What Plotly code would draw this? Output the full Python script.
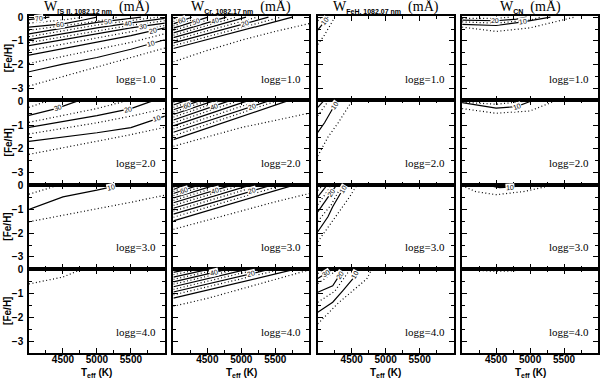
import numpy as np
import plotly.graph_objects as go
from plotly.subplots import make_subplots

T5 = [4000, 4500, 5000, 5500, 6000]

# contour lines: (level mA, Teff list, [Fe/H] list)
SI_G1 = [
    (5,  T5, [-2.9, -2.5, -2.1, -1.7, -1.3]),
    (10, T5, [-2.3, -1.98, -1.7, -1.35, -0.95]),
    (15, T5, [-1.95, -1.65, -1.37, -1.06, -0.7]),
    (20, T5, [-1.6, -1.32, -1.05, -0.78, -0.45]),
    (25, T5, [-1.4, -1.13, -0.87, -0.61, -0.35]),
    (30, T5, [-1.2, -0.95, -0.7, -0.45, -0.25]),
    (35, T5, [-1.07, -0.82, -0.57, -0.34, -0.15]),
    (40, T5, [-0.95, -0.7, -0.45, -0.24, -0.05]),
    (45, [4000, 4500, 5000, 5500, 5900], [-0.82, -0.57, -0.33, -0.14, 0]),
    (50, [4000, 4500, 5000, 5500, 5650], [-0.7, -0.45, -0.22, -0.05, 0]),
    (55, [4000, 4500, 5000, 5300], [-0.55, -0.36, -0.17, 0]),
    (60, [4000, 4500, 4800, 5000], [-0.42, -0.28, -0.12, 0]),
    (65, [4000, 4500, 4800], [-0.25, -0.12, 0]),
    (70, [4000, 4200, 4300], [-0.1, -0.03, 0]),
]
SI_G1_LAB = [(70, 4150), (60, 4450), (50, 5160), (40, 5460), (30, 5680), (20, 5830), (10, 5800)]

SI_G2 = [
    (5,  T5, [-2.23, -1.95, -1.7, -1.4, -1.09]),
    (10, T5, [-1.68, -1.5, -1.32, -1.1, -0.62]),
    (15, T5, [-1.37, -1.15, -0.9, -0.62, -0.3]),
    (20, [4000, 4500, 5000, 5500, 5800], [-1.09, -0.85, -0.6, -0.3, 0]),
    (25, [4000, 4500, 5000, 5400], [-0.88, -0.6, -0.3, 0]),
    (30, [4000, 4400, 4700], [-0.59, -0.3, 0]),
    (35, [4000, 4250], [-0.25, 0]),
]
SI_G2_LAB = [(30, 4430), (20, 5460), (10, 5880)]

SI_G3 = [
    (5,  T5, [-1.52, -1.25, -0.98, -0.7, -0.4]),
    (10, [4000, 4500, 5000, 5200, 5300], [-1.0, -0.47, -0.19, -0.06, 0]),
    (15, [4000, 4410], [-0.36, 0]),
]
SI_G3_LAB = [(10, 5200)]

SI_G4 = [
    (5, [4000, 4500, 4750], [-0.59, -0.3, 0]),
]
SI_G4_LAB = []

CR_LEV = [10, 15, 20, 25, 30, 35, 40, 45, 50, 55, 60, 65, 70, 75]

CR_G1_LEFT = [-1.32, -1.2, -1.08, -0.97, -0.86, -0.76, -0.66, -0.56, -0.46, -0.37, -0.28, -0.18, -0.08]
CR_G1_TOP = [5750, 5580, 5400, 5230, 5070, 4920, 4780, 4640, 4510, 4390, 4270, 4150, 4050]
CR_G1_LOW = [-1.88, -1.4, -0.97, -0.6, -0.27]
CR_G1_LAB = [(60, 4120), (50, 4330), (40, 4620), (20, 5050)]

CR_G2_LEFT = [-1.61, -1.45, -1.3, -1.16, -1.03, -0.9, -0.78, -0.66, -0.55, -0.45, -0.35, -0.25, -0.15, -0.06]
CR_G2_TOP = [5660, 5500, 5380, 5220, 5070, 4930, 4800, 4680, 4570, 4460, 4360, 4250, 4150, 4050]
CR_G2_LOW = [-1.89, -1.5, -1.1, -0.8, -0.49]
CR_G2_LAB = [(60, 4200), (40, 4600), (20, 5160)]

CR_G3_LEFT = [-1.48, -1.33, -1.2, -1.07, -0.95, -0.83, -0.72, -0.62, -0.52, -0.42, -0.33, -0.24, -0.16, -0.08]
CR_G3_TOP = [5750, 5580, 5420, 5260, 5110, 4970, 4840, 4710, 4590, 4470, 4350, 4240, 4140, 4050]
CR_G3_LOW = [-1.84, -1.45, -1.05, -0.68, -0.33]
CR_G3_LAB = [(60, 4150), (40, 4620), (20, 5160)]

CR_G4_LEFT = [-1.19, -1.05, -0.93, -0.82, -0.71, -0.6, -0.5, -0.4, -0.3, -0.2, -0.1]
CR_G4_TOP = [5750, 5550, 5380, 5200, 5050, 4900, 4760, 4620, 4480, 4340, 4180]
CR_G4_LOW = [-1.53, -1.2, -0.8, -0.4, 0.0]
CR_G4_LAB = [(40, 4600), (20, 5150)]

FEH_G1 = [
    (5,  [4000, 4100, 4250], [-1.15, -0.75, 0]),
    (10, [4000, 4150], [-0.55, 0]),
    (15, [4000, 4050], [-0.15, 0]),
]
FEH_G1_LAB = [(10, 4100)]

FEH_G2 = [
    (5,  [4000, 4150, 4300, 4450, 4500], [-2.3, -1.5, -0.9, -0.2, 0]),
    (10, [4000, 4100, 4220, 4300], [-1.3, -0.9, -0.3, 0]),
    (15, [4000, 4150], [-0.6, 0]),
    (20, [4000, 4080], [-0.25, 0]),
]
FEH_G2_LAB = [(10, 4250)]

FEH_G3 = [
    (5,  [4000, 4470, 4570], [-2.36, -0.47, 0]),
    (10, [4000, 4150, 4220, 4400], [-1.94, -1.31, -0.89, 0]),
    (15, [4000, 4200, 4350], [-1.5, -0.8, 0]),
    (20, [4000, 4120, 4270], [-1.1, -0.6, 0]),
    (25, [4000, 4200], [-0.8, 0]),
    (30, [4000, 4130], [-0.47, 0]),
    (35, [4000, 4070], [-0.2, 0]),
]
FEH_G3_LAB = [(20, 4200), (10, 4370)]

FEH_G4 = [
    (5,  [4000, 4300, 4720, 4790], [-2.27, -1.4, -0.38, 0]),
    (10, [4000, 4220, 4370, 4515, 4590], [-1.78, -1.36, -0.87, -0.38, 0]),
    (15, [4000, 4250, 4470], [-1.36, -0.9, 0]),
    (20, [4000, 4220, 4370], [-0.94, -0.67, 0]),
    (25, [4000, 4290], [-0.57, 0]),
    (30, [4000, 4200], [-0.36, 0]),
    (35, [4000, 4120], [-0.15, 0]),
]
FEH_G4_LAB = [(30, 4120), (20, 4320), (10, 4550)]

CN_G1 = [
    (5,  [4000, 4500, 5000, 5500, 5650], [-0.42, -0.6, -0.45, -0.1, 0]),
    (10, [4000, 4500, 4900, 5300], [-0.3, -0.35, -0.2, 0]),
    (15, [4000, 4500, 5000, 5150], [-0.2, -0.25, -0.12, 0]),
    (20, [4000, 4500, 4800, 4950], [-0.12, -0.15, -0.08, 0]),
    (25, [4000, 4500, 4700], [-0.05, -0.05, 0]),
]
CN_G1_LAB = [(20, 4480), (10, 4900)]

CN_G2 = [
    (5,  [4000, 4500, 5000, 5350], [-0.3, -0.5, -0.4, 0]),
    (10, [4000, 4500, 4800, 5000], [-0.05, -0.28, -0.22, 0]),
    (15, [4000, 4500, 4900], [-0.03, -0.12, 0]),
]
CN_G2_LAB = [(10, 4810)]

CN_G3 = [
    (5,  [4000, 4200, 4500, 4900, 5300], [0, -0.25, -0.38, -0.25, 0]),
    (10, [4400, 4550, 4750, 4850], [0, -0.08, -0.05, 0]),
]
CN_G3_LAB = [(10, 4700)]

CN_G4 = [
    (5, [4150, 4400, 4700, 4900], [0, -0.05, -0.05, 0]),
]
CN_G4_LAB = []

LOGG = ["1.0", "2.0", "3.0", "4.0"]
TITLES = ["[S I], 1082.12 nm", "Cr, 1082.17 nm", "FeH, 1082.07 nm", "CN"]


def cr_lines(left, top, low):
    out = [(5, T5, low)]
    for lev, f0, t0 in zip(CR_LEV, left, top):
        out.append((lev, [4000, t0], [f0, 0]))
    return out


panels = [
    [(SI_G1, SI_G1_LAB), (cr_lines(CR_G1_LEFT, CR_G1_TOP, CR_G1_LOW), CR_G1_LAB), (FEH_G1, FEH_G1_LAB), (CN_G1, CN_G1_LAB)],
    [(SI_G2, SI_G2_LAB), (cr_lines(CR_G2_LEFT, CR_G2_TOP, CR_G2_LOW), CR_G2_LAB), (FEH_G2, FEH_G2_LAB), (CN_G2, CN_G2_LAB)],
    [(SI_G3, SI_G3_LAB), (cr_lines(CR_G3_LEFT, CR_G3_TOP, CR_G3_LOW), CR_G3_LAB), (FEH_G3, FEH_G3_LAB), (CN_G3, CN_G3_LAB)],
    [(SI_G4, SI_G4_LAB), (cr_lines(CR_G4_LEFT, CR_G4_TOP, CR_G4_LOW), CR_G4_LAB), (FEH_G4, FEH_G4_LAB), (CN_G4, CN_G4_LAB)],
]

fig = make_subplots(rows=4, cols=4, horizontal_spacing=0.015, vertical_spacing=0)

PX_T = 136 / 2000.0   # px per K
PX_F = 84.2 / 3.55    # px per dex

for r in range(4):
    for c in range(4):
        lines, labs = panels[r][c]
        for lev, t, f in lines:
            fig.add_trace(go.Scatter(
                x=t, y=f, mode='lines', hoverinfo='skip', showlegend=False,
                line=dict(color='black', width=1.2, dash='1px,2.5px' if lev % 10 else 'solid')),
                row=r + 1, col=c + 1)
        for lev, tl in labs:
            for l2, t, f in lines:
                if l2 == lev:
                    yl = float(np.interp(tl, t, f))
                    i = max(1, min(len(t) - 1, int(np.searchsorted(t, tl))))
                    dy = (f[i] - f[i - 1]) * PX_F
                    dx = (t[i] - t[i - 1]) * PX_T
                    ang = -np.degrees(np.arctan2(dy, dx))
                    fig.add_annotation(x=tl, y=yl, text=str(lev), showarrow=False, textangle=ang,
                                       xanchor='center', yanchor='middle',
                                       font=dict(family='Liberation Sans', size=7, color='black'),
                                       bgcolor='white', borderpad=0, row=r + 1, col=c + 1)
        fig.add_annotation(x=5580, y=-2.6, text='logg=' + LOGG[r], showarrow=False,
                           xanchor='center', yanchor='middle',
                           font=dict(family='Liberation Serif', size=11, color='black'),
                           row=r + 1, col=c + 1)

tickfont = dict(family='Liberation Sans', size=10, color='black', weight='bold')
fig.update_xaxes(range=[4000, 6000], tickvals=[4500, 5000, 5500], ticks='inside', ticklen=5,
                 minor=dict(tickvals=[4250, 4750, 5250, 5750], ticks='inside', ticklen=3, tickcolor='black'),
                 showline=True, mirror='allticks', linecolor='black', linewidth=1.5, tickcolor='black',
                 showgrid=False, zeroline=False, showticklabels=False, automargin=False,
                 ticklabelstandoff=-4, tickfont=tickfont)
fig.update_yaxes(range=[-3.5, 0.05], tickvals=[0, -1, -2, -3], ticks='inside', ticklen=5,
                 minor=dict(tickvals=[-0.5, -1.5, -2.5, -3.5], ticks='inside', ticklen=3, tickcolor='black'),
                 showline=True, mirror='allticks', linecolor='black', linewidth=1.5, tickcolor='black',
                 showgrid=False, zeroline=False, showticklabels=False, automargin=False,
                 ticklabelstandoff=2, tickfont=tickfont)
for c in range(4):
    fig.update_xaxes(showticklabels=True, row=4, col=c + 1)
for r in range(4):
    fig.update_yaxes(showticklabels=True, row=r + 1, col=1)

fig.update_layout(width=600, height=379, margin=dict(l=29, r=2, t=16, b=26),
                  plot_bgcolor='white', paper_bgcolor='white')

# column titles and axis titles
for c in range(4):
    xd = fig.layout['xaxis%s' % ('' if c == 0 else c + 1)].domain
    xm = (xd[0] + xd[1]) / 2
    fig.add_annotation(xref='paper', yref='paper', x=xm, y=1.0, xanchor='center', yanchor='middle',
                       yshift=9, showarrow=False,
                       text='W<sub><span style="font-family:Liberation Sans;font-size:7px;font-weight:bold">'
                            + TITLES[c] + '</span></sub>  (mÅ)',
                       font=dict(family='Liberation Serif', size=14, color='black'))
    fig.add_annotation(xref='paper', yref='paper', x=xm, y=0, xanchor='center', yanchor='middle',
                       yshift=-20, showarrow=False,
                       text='T<sub>eff</sub> (K)',
                       font=dict(family='Liberation Sans', size=10, color='black', weight='bold'))
for r in range(4):
    yd = fig.layout['yaxis%s' % ('' if r == 0 else 4 * r + 1)].domain
    fig.add_annotation(xref='paper', yref='paper', x=0, xshift=-21, y=(yd[0] + yd[1]) / 2,
                       xanchor='center', yanchor='middle', showarrow=False,
                       text='[Fe/H]', textangle=-90,
                       font=dict(family='Liberation Sans', size=10, color='black', weight='bold'))

fig.write_html("out.html", config={'displayModeBar': False},
               post_script="document.body.style.margin='0px';")
